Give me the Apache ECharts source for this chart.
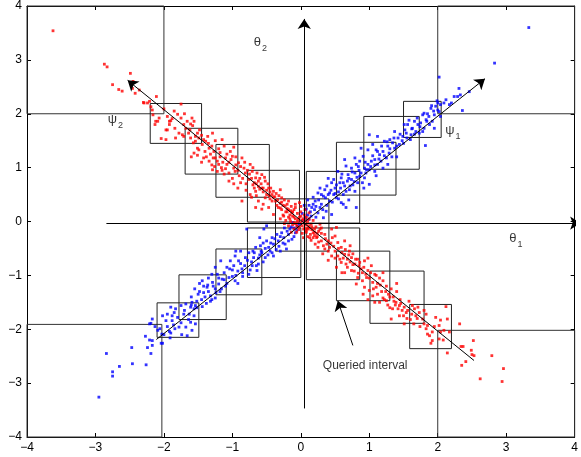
<!DOCTYPE html>
<html>
<head>
<meta charset="utf-8">
<script src="https://cdn.jsdelivr.net/npm/echarts@6/dist/echarts.min.js"></script>
<style>
  html, body { margin: 0; padding: 0; background: #fff; }
  #chart { width: 581px; height: 457px; }
</style>
</head>
<body>
<div id="chart"></div>
<script>
// Axis range and tick values
const axisMin = -4;
const axisMax = 4;
const tickStep = 1;

// Samples drawn around the psi2 direction (red)
const redPoints = [
  [-3.62,3.54],[-2.87,2.92],[-2.83,2.87],[-2.49,2.75],[-2.75,2.54],[-2.66,2.45],[-2.61,2.42],[-2.45,2.60],[-2.36,2.44],[-2.42,2.38],
  [-2.11,2.32],[-2.30,2.21],[-2.24,2.20],[-2.21,2.23],[-2.19,2.13],[-2.17,2.07],[-2.00,2.09],[-1.75,2.18],[-2.16,1.98],[-2.07,1.92],
  [-2.12,1.86],[-2.13,1.80],[-2.04,1.54],[-1.97,1.70],[-1.92,1.86],[-1.88,1.91],[-1.80,1.99],[-1.84,1.73],[-1.75,1.92],[-1.71,1.80],
  [-1.66,1.86],[-1.59,1.92],[-1.78,1.64],[-1.71,1.58],[-1.64,1.64],[-1.61,1.55],[-1.54,1.58],[-1.57,1.46],[-1.51,1.36],[-1.51,1.23],
  [-1.83,1.55],[-1.95,1.70],[-2.46,2.47],[-2.29,2.20],[-2.09,1.86],[-1.92,1.80],[-1.90,1.87],[-1.56,1.86],[-1.61,1.81],[-1.73,1.61],
  [-1.68,1.73],[-1.97,1.52],[-1.51,1.64],[-1.49,1.55],[-1.54,1.49],[-1.44,1.43],[-1.39,1.49],[-1.29,1.64],[-1.34,1.36],[-1.27,1.30],
  [-1.49,1.33],[-1.56,1.27],[-1.42,1.18],[-1.34,1.12],[-1.25,1.18],[-1.20,1.06],[-1.15,1.52],[-1.12,1.40],[-1.03,1.30],[-1.00,1.21],
  [-1.10,1.18],[-1.08,1.06],[-0.98,0.99],[-1.29,0.96],[-1.22,0.93],[-1.15,0.95],[-1.05,0.90],[-0.96,0.93],[-0.91,1.09],[-0.86,1.18],
  [-0.83,0.99],[-0.81,0.90],[-0.74,1.06],[-0.71,0.93],[-0.66,0.81],[-0.76,0.78],[-0.62,0.75],[-0.57,0.87],[-0.52,0.75],[-0.57,0.62],
  [-0.66,0.56],[-0.74,0.50],[-0.47,0.62],[-0.42,0.50],[-0.52,0.44],[-0.62,0.38],[-0.86,0.38],[-0.37,0.38],[-0.30,0.59],[-0.28,0.44],
  [-0.23,0.29],[-0.33,0.26],[-0.47,0.26],[-0.57,0.23],[-0.66,0.26],[-0.40,0.13],[-0.25,0.10],[-0.13,0.16],[-0.18,0.38],[-0.08,0.32],
  [-1.40,1.30],[-1.32,1.25],[-1.18,1.28],[-1.22,1.12],[-1.05,1.10],[-0.95,1.05],[-0.90,0.85],[-0.88,0.72],[-0.80,0.70],[-0.70,0.68],
  [-0.68,0.62],[-0.60,0.60],[-0.55,0.55],[-0.50,0.50],[-0.45,0.42],[-0.40,0.45],[-0.35,0.30],[-0.30,0.34],[-0.28,0.22],[-0.20,0.24],
  [-1.12,0.88],[-1.00,0.80],[-0.72,0.45],[-0.55,0.32],[-0.92,0.62],[-1.30,1.05],[-1.60,1.20],[-1.45,1.10],[-1.10,0.98],[-0.65,0.70],
  [-0.45,0.55],
  [-1.95,1.95],[-1.85,2.05],[-1.70,2.00],[-1.62,1.70],[-1.58,1.78],[-1.48,1.70],[-1.45,1.60],[-1.42,1.52],[-1.36,1.58],[-1.30,1.40],
  [-1.25,1.50],[-1.20,1.35],[-1.18,1.20],[-1.14,1.10],[-1.08,1.25],[-1.02,1.15],[-0.98,1.38],[-0.95,1.20],[-0.92,0.95],[-0.88,1.02],
  [-0.85,0.80],[-0.82,1.10],[-0.78,0.95],[-0.75,0.88],[-0.72,0.80],[-0.70,1.00],[-0.68,0.72],[-0.64,0.90],[-0.62,0.65],[-0.60,0.80],
  [-0.58,0.70],[-0.55,0.62],[-0.53,0.82],[-0.50,0.58],[-0.48,0.70],[-0.46,0.48],[-0.44,0.62],[-0.42,0.38],[-0.40,0.56],[-0.38,0.46],
  [-0.36,0.52],[-0.34,0.40],[-0.32,0.48],[-0.30,0.25],[-0.28,0.36],[-0.26,0.30],[-0.24,0.40],[-0.22,0.18],[-0.20,0.32],[-0.18,0.22],
  [-0.16,0.12],[-0.14,0.28],[-0.12,0.18],[-1.38,1.20],[-1.28,1.18],[-1.16,1.00],[-1.26,1.02],[-1.35,1.45],[-1.05,0.75],[-0.98,0.70],
  [-0.80,0.58],[-0.65,0.48],
  [-0.20,0.18],[-0.15,0.20],[-0.10,0.22],[-0.05,0.15],[0.00,0.18],[0.05,0.12],[-0.18,0.08],[-0.12,0.10],[-0.08,0.05],[-0.02,0.08],
  [0.03,0.05],[0.08,0.08],[-0.22,0.02],[-0.15,0.00],[-0.10,-0.02],[-0.05,0.00],[0.00,-0.02],[0.05,-0.03],[0.10,0.00],[0.12,0.05],
  [-0.18,-0.08],[-0.12,-0.06],[-0.06,-0.08],[0.02,-0.08],[0.08,-0.06],[0.15,-0.05],[0.18,0.02],[-0.10,-0.14],[-0.03,-0.15],[0.04,-0.14],
  [0.10,-0.12],[0.16,-0.15],[0.22,-0.10],[-0.06,-0.20],[0.02,-0.22],[0.08,-0.20],[0.14,-0.24],[0.20,-0.20],[0.26,-0.18],[0.00,0.28],
  [-0.08,0.26],[0.06,0.22],[-0.26,0.12],[0.12,0.16],[-0.30,0.05],[0.28,-0.05],[-0.02,0.35],[0.04,-0.30],[0.10,-0.28],[-0.14,-0.20],
  [0.18,-0.30],[0.24,-0.28],[-0.24,-0.04],[0.30,-0.12],
  [-0.04,0.04],[0.02,0.02],[-0.08,-0.04],[0.06,0.02],[-0.02,-0.10],[0.12,-0.08],[0.06,-0.12],[-0.16,0.05],[0.16,-0.10],[-0.10,0.08],
  [0.00,0.10],[0.20,-0.14],[0.24,-0.22],[0.08,-0.16],
  [0.11,-0.14],[0.18,-0.21],[0.13,-0.30],[0.23,-0.30],[0.28,-0.14],[0.35,-0.24],[0.30,-0.36],[0.21,-0.42],[0.40,-0.36],[0.45,-0.14],
  [0.52,-0.11],[0.50,-0.27],[0.54,-0.39],[0.42,-0.48],[0.35,-0.51],[0.25,-0.48],[0.59,-0.48],[0.64,-0.36],[0.50,-0.55],[0.45,-0.64],
  [0.54,-0.64],[0.64,-0.61],[0.71,-0.55],[0.74,-0.67],[0.59,-0.76],[0.66,-0.79],[0.79,-0.79],[0.83,-0.70],[0.93,-0.73],[0.88,-0.88],
  [0.74,-0.91],[0.64,-0.95],[0.52,-0.85],[0.98,-0.91],[1.03,-0.82],[1.08,-0.98],[0.96,-1.04],[0.83,-1.04],[1.05,-1.13],[0.93,-1.22],
  [1.00,-1.28],[1.10,-1.22],[0.91,-1.35],[0.81,-1.16],[1.05,-1.38],
  [0.38,-0.42],[0.46,-0.30],[0.60,-0.58],[0.68,-0.70],[0.76,-0.80],[0.85,-0.82],[0.90,-0.95],[0.72,-0.45],[0.32,-0.60],[0.40,-0.72],
  [1.15,-1.05],[1.12,-1.15],[1.20,-1.10],[1.18,-1.30],[1.25,-1.20],[1.28,-1.35],[1.32,-1.25],[1.22,-1.45],[1.35,-1.40],[1.40,-1.30],
  [1.38,-1.55],[1.15,-1.50],[1.45,-1.45],[1.48,-1.65],[1.30,-1.60],[1.58,-1.48],[1.55,-1.80],[1.62,-1.72],[1.70,-1.80],[1.20,-0.95],
  [0.98,-1.45],
  [0.15,-0.35],[0.20,-0.26],[0.26,-0.38],[0.30,-0.22],[0.33,-0.45],[0.36,-0.32],[0.40,-0.55],[0.44,-0.40],[0.48,-0.46],[0.50,-0.68],
  [0.55,-0.50],[0.57,-0.70],[0.62,-0.68],[0.65,-0.52],[0.68,-0.85],[0.70,-0.62],[0.72,-0.75],[0.76,-0.60],[0.78,-0.92],[0.80,-0.70],
  [0.84,-0.96],[0.86,-0.76],[0.90,-1.10],[0.92,-0.85],[0.95,-0.98],[1.00,-1.05],[1.02,-0.95],[1.06,-1.25],[1.10,-1.00],[1.12,-1.35],
  [1.16,-1.18],[1.20,-1.42],[1.24,-1.30],[1.27,-1.55],[1.30,-1.40],[1.34,-1.62],[1.36,-1.48],[1.42,-1.62],[1.46,-1.52],[1.50,-1.75],
  [1.56,-1.65],[1.60,-1.82],[1.65,-1.90],[1.74,-1.95],[1.88,-2.12],[1.95,-1.95],[1.40,-1.15],[0.60,-0.95],[0.98,-0.68],[1.08,-1.50],
  [1.25,-1.47],[1.39,-1.50],[1.44,-1.56],[1.51,-1.59],[1.32,-1.81],[1.44,-1.75],[1.54,-1.69],[1.51,-1.90],[1.63,-1.56],[1.66,-1.62],
  [1.71,-1.59],[1.73,-1.69],[1.68,-1.75],[1.80,-1.65],[1.83,-1.72],[1.78,-1.81],[1.85,-1.93],[1.80,-1.90],[1.83,-1.99],[1.85,-2.09],
  [1.92,-2.05],[1.97,-1.78],[2.02,-1.93],[2.12,-1.58],[2.14,-1.81],[2.04,-1.83],[2.09,-2.02],[2.17,-2.05],[2.04,-2.05],[1.92,-2.21],
  [1.90,-2.26],[2.02,-2.18],[2.08,-2.20],[2.14,-2.44],[2.32,-1.90],[2.34,-2.32],[2.37,-2.32],[2.52,-2.21],[2.49,-2.39],[2.50,-2.47],
  [2.53,-2.49],[2.41,-2.60],[2.35,-2.67],[2.79,-2.49],[2.96,-2.73],[2.62,-2.92],[2.94,-2.97]
];

// Samples drawn around the psi1 direction (blue)
const bluePoints = [
  [3.33,3.60],[2.83,2.94],[2.02,2.68],[2.31,2.47],[2.46,2.41],[2.29,2.32],[2.36,2.06],[2.12,2.26],[2.09,2.20],[2.20,2.20],
  [1.99,2.24],[2.04,2.17],[1.91,2.15],[1.80,2.01],[2.00,2.07],[1.82,1.41],[1.95,1.73],[1.78,1.67],[1.84,1.86],
  [2.33,2.35],[2.24,2.32],[2.17,2.17],[2.00,2.20],[1.97,2.14],[1.90,2.10],[2.02,2.04],[2.04,1.95],[1.95,1.98],[1.87,1.95],
  [1.92,1.86],[1.83,1.89],[1.75,1.83],[1.71,1.80],[1.66,1.86],[1.80,1.73],[1.63,1.73],[1.56,1.80],[1.51,1.80],[1.54,1.64],
  [1.61,1.61],[1.68,1.67],[1.73,1.64],[1.49,1.58],[1.42,1.55],[1.37,1.67],[1.34,1.46],[1.44,1.43],[1.37,1.36],[1.27,1.40],
  [1.22,1.49],[1.12,1.58],[1.29,1.27],[1.20,1.30],[1.25,1.18],[1.15,1.24],[1.10,1.33],[1.05,1.43],[0.98,1.33],[0.88,1.36],
  [1.08,1.15],[1.17,1.12],[1.27,1.06],[1.20,0.99],[1.12,1.06],[1.03,1.12],[0.98,1.06],[1.00,0.96],[1.08,0.93],[0.93,0.99],
  [0.86,1.12],[0.79,1.18],[0.91,1.21],[0.81,1.06],[0.74,0.99],[0.66,1.03],[0.64,1.15],[0.69,0.87],[0.79,0.90],[0.86,0.84],
  [0.93,0.81],[1.00,0.69],[0.83,0.72],[0.74,0.78],[0.59,0.81],[0.54,0.93],[0.57,0.72],[0.64,0.66],[0.71,0.59],[0.79,0.56],
  [0.50,0.62],[0.45,0.72],[0.42,0.53],[0.35,0.59],[0.33,0.47],[0.25,0.53],[0.52,0.44],[0.59,0.35],[0.66,0.26],[0.42,0.38],
  [0.30,0.32],[0.21,0.38],[0.16,0.26],[0.25,0.16],[0.37,0.19],[0.45,0.13],[0.33,0.07],[0.81,0.26],[0.08,0.23],[0.06,0.07],
  [1.00,1.61],
  [0.10,0.12],[0.15,0.10],[0.20,0.22],[0.12,0.30],[0.28,0.26],[0.38,0.30],[0.48,0.50],[0.55,0.55],[0.62,0.50],[0.68,0.75],
  [0.76,0.68],[0.85,0.95],[0.95,0.90],[0.18,0.45],[0.40,0.80],[0.70,0.40],[1.40,1.20],[1.50,1.45],[1.60,1.52],[1.30,1.52],
  [0.02,0.15],[0.04,0.02],[0.12,0.04],[0.22,0.08],
  [0.05,0.30],[0.10,0.40],[0.14,0.18],[0.18,0.32],[0.22,0.28],[0.26,0.40],[0.28,0.62],[0.30,0.50],[0.32,0.22],[0.36,0.44],
  [0.38,0.66],[0.40,0.50],[0.44,0.58],[0.46,0.36],[0.48,0.78],[0.50,0.52],[0.52,0.68],[0.55,0.42],[0.58,0.62],[0.60,0.88],
  [0.62,0.72],[0.66,0.56],[0.70,0.80],[0.72,0.66],[0.75,0.92],[0.78,0.74],[0.82,0.82],[0.84,1.02],[0.88,0.90],[0.90,0.72],
  [0.94,1.10],[0.96,0.96],[1.02,1.02],[1.05,1.22],[1.08,1.05],[1.12,1.30],[1.14,1.16],[1.18,1.40],[1.22,1.22],[1.26,1.48],
  [1.30,1.35],[1.33,1.20],[1.36,1.55],[1.40,1.40],[1.45,1.62],[1.48,1.50],[1.52,1.70],[1.55,1.55],[1.58,1.88],[1.62,1.72],
  [1.66,1.62],[1.70,1.92],[1.74,1.76],[1.78,1.98],[1.85,2.00],[1.88,1.80],[1.94,2.05],[0.62,0.32],[0.92,0.62],[1.10,0.85],
  [-2.95,-3.26],[-2.84,-2.45],[-2.75,-2.79],[-2.75,-2.87],[-2.65,-2.69],[-2.46,-2.64],[-2.47,-2.34],[-2.26,-2.66],[-2.27,-2.13],[-2.24,-2.34],
  [-2.19,-2.45],[-2.17,-2.30],[-2.21,-2.20],[-2.17,-2.21],[-2.04,-2.26],[-2.02,-2.26],[-2.03,-2.09],[-2.06,-1.99],[-2.21,-1.90],[-2.19,-1.89],
  [-2.17,-1.81],[-2.13,-1.95],[-2.09,-2.02],[-2.02,-1.75],[-1.95,-1.72],[-1.88,-1.75],[-1.97,-1.84],[-1.88,-1.84],[-1.92,-2.04],[-1.90,-2.07],
  [-1.84,-1.99],[-1.91,-2.16],[-1.74,-2.10],[-1.66,-2.12],[-1.78,-1.96],[-1.68,-1.96],[-1.59,-2.02],[-1.54,-1.90],[-1.61,-1.87],[-1.71,-1.72],
  [-1.63,-1.72],[-1.56,-1.75],[-1.61,-1.59],[-1.54,-1.56],[-1.75,-1.56],[-1.85,-1.69],[-1.90,-1.59],[-1.83,-1.62],[-1.68,-1.53],[-1.59,-1.50],
  [-1.45,-1.45],[-1.50,-1.35],[-1.38,-1.52],[-1.55,-1.25],[-1.30,-1.45],[-1.60,-1.40],[-1.52,-1.60],[-1.42,-1.20],[-1.35,-1.30],[-1.25,-1.42],
  [-1.48,-1.15],
  [-1.44,-1.10],[-1.37,-1.22],[-1.42,-1.32],[-1.29,-1.13],[-1.25,-1.25],[-1.32,-1.38],[-1.20,-1.16],[-1.22,-0.98],[-1.12,-0.95],[-1.15,-1.07],
  [-1.05,-1.04],[-1.08,-0.85],[-1.17,-0.73],[-1.03,-0.73],[-0.98,-0.82],[-0.96,-0.64],[-0.91,-0.73],[-0.86,-0.88],[-0.81,-0.67],[-0.88,-0.55],
  [-0.76,-0.58],[-0.69,-0.67],[-0.62,-0.79],[-0.71,-0.82],[-0.64,-0.91],[-0.76,-0.98],[-0.66,-0.48],[-0.59,-0.45],[-0.57,-0.58],[-0.52,-0.67],
  [-0.47,-0.48],[-0.50,-0.36],[-0.42,-0.30],[-0.40,-0.42],[-0.33,-0.36],[-0.35,-0.24],[-0.28,-0.21],[-0.25,-0.30],[-0.23,-0.42],[-0.18,-0.24],
  [-0.16,-0.14],[-0.13,-0.33],[-0.08,-0.21],[-0.21,-0.51],[-0.30,-0.55],[-0.40,-0.64],[-0.79,-0.14],[-0.54,-0.14],[-0.50,-0.08],
  [-0.05,-0.08],[-0.10,-0.12],[-0.02,-0.04],[-0.12,-0.02],[-0.45,-0.55],[-0.60,-0.62],[-0.85,-0.95],[-0.95,-1.00],[-1.00,-0.90],[-0.70,-0.55],
  [-0.55,-0.40],[-1.10,-1.20],[-1.18,-1.30],[-0.92,-1.15],[-1.25,-0.85],[-1.35,-1.05],
  [-0.06,-0.16],[-0.10,-0.28],[-0.14,-0.10],[-0.18,-0.36],[-0.20,-0.18],[-0.24,-0.12],[-0.26,-0.40],[-0.30,-0.28],[-0.32,-0.46],[-0.36,-0.52],
  [-0.38,-0.32],[-0.42,-0.58],[-0.44,-0.40],[-0.48,-0.62],[-0.52,-0.50],[-0.55,-0.75],[-0.58,-0.55],[-0.62,-0.68],[-0.65,-0.82],[-0.68,-0.58],
  [-0.72,-0.75],[-0.74,-0.90],[-0.78,-0.72],[-0.82,-0.82],[-0.85,-1.02],[-0.88,-0.78],[-0.92,-0.92],[-0.96,-1.10],[-1.00,-1.02],[-1.04,-0.88],
  [-1.08,-1.15],[-1.12,-1.08],[-1.16,-1.25],[-1.20,-1.05],[-1.24,-1.32],[-1.28,-1.20],[-1.32,-1.48],[-1.36,-1.18],[-1.40,-1.40],[-1.44,-1.58],
  [-1.48,-1.30],[-1.52,-1.48],[-1.56,-1.62],[-1.60,-1.55],[-1.64,-1.82],[-1.70,-1.65],[-1.75,-1.88],[-1.80,-1.78],[-1.86,-1.92],[-1.95,-1.95],
  [-2.00,-2.10],[-0.60,-0.30],[-0.95,-0.55],[-1.30,-0.98]
];

// Query rectangles along both directions: [xMin, yMin, xMax, yMax]
const queryBoxes = [
  [-2.20,1.45,-1.45,2.19],[-1.69,0.88,-0.92,1.73],[-1.24,0.45,-0.46,1.43],[-0.78,-0.01,-0.02,0.95],
  [-0.37,-0.55,0.41,0.42],
  [0.08,-1.08,0.86,-0.12],[0.52,-1.47,1.30,-0.55],[1.01,-1.89,1.80,-0.92],[1.59,-2.36,2.20,-1.54],
  [0.08,-0.03,0.86,0.93],[0.52,0.49,1.39,1.47],[0.92,0.97,1.73,1.95],[1.50,1.56,2.05,2.23],
  [-0.78,-1.04,0.00,-0.12],[-1.24,-1.36,-0.57,-0.51],[-1.78,-1.82,-1.09,-0.99],[-2.10,-2.15,-1.49,-1.51]
];

// Corner regions
const cornerBoxes = [
  [-4,2,-2,4],[2,2,4,4],[-4,-4,-2.03,-1.91],[2,-4,4,-2.02]
];

// Arrows: [from, to]
const thetaAxes = [
  [[-2.84,-0.03],[4.08,-0.03]],
  [[0.05,-3.47],[0.05,3.76]]
];
const psiAxes = [
  [[-2.11,-2.19],[2.69,2.65]],
  [[2.53,-2.58],[-2.53,2.62]]
];
const queryPointer = [[0.76,-2.30],[0.54,-1.47]];

// Text annotations
const annotations = [
  { name: '{g|θ}{s|2}', value: [-0.59, 3.27] },
  { name: '{g|θ}{s|1}', value: [3.14, -0.36] },
  { name: '{g|ψ}{s|1}', value: [2.22, 1.64] },
  { name: '{g|ψ}{s|2}', value: [-2.71, 1.84] },
  { name: '{t|Queried interval}', value: [0.94, -2.67] }
];

const FONT = '"Liberation Sans", Arial, Helvetica, sans-serif';
const fmt = v => (v < 0 ? '\u2212' + Math.abs(v) : String(v));

function axisCommon(showLabel, pos) {
  return {
    type: 'value', min: axisMin, max: axisMax, interval: tickStep, position: pos,
    axisLine: { show: true, onZero: false, lineStyle: { color: '#000', width: 1 } },
    axisTick: { show: true, inside: true, length: 4, lineStyle: { color: '#000' } },
    axisLabel: { show: showLabel, color: '#000', fontSize: 12, fontFamily: FONT, margin: 5, formatter: fmt },
    splitLine: { show: false }
  };
}

function boxSeries(data, color) {
  return {
    type: 'custom', coordinateSystem: 'cartesian2d', silent: true, z: 3,
    data: data,
    encode: { x: [0, 2], y: [1, 3] },
    renderItem: function (params, api) {
      const a = api.coord([api.value(0), api.value(1)]);
      const b = api.coord([api.value(2), api.value(3)]);
      return {
        type: 'rect',
        shape: { x: Math.min(a[0], b[0]), y: Math.min(a[1], b[1]),
                 width: Math.abs(b[0] - a[0]), height: Math.abs(b[1] - a[1]) },
        style: { fill: 'transparent', stroke: color, lineWidth: 1 }
      };
    }
  };
}

function arrowSeries(list) {
  return {
    type: 'lines', coordinateSystem: 'cartesian2d', silent: true, z: 5,
    symbol: ['none', 'arrow'],
    symbolSize: 10,
    lineStyle: { color: '#000', width: 1, opacity: 1, curveness: 0 },
    data: list.map(c => ({ coords: c }))
  };
}

const chart = echarts.init(document.getElementById('chart'), null, { renderer: 'canvas' });
chart.setOption({
  animation: false,
  backgroundColor: '#fff',
  grid: { left: 27, right: 3, top: 4, bottom: 20, containLabel: false },
  xAxis: [axisCommon(true, 'bottom'), axisCommon(false, 'top')],
  yAxis: [axisCommon(true, 'left'), axisCommon(false, 'right')],
  series: [
    boxSeries(cornerBoxes, '#333'),
    boxSeries(queryBoxes, '#222'),
    {
      type: 'scatter', symbol: 'rect', symbolSize: 2.8, z: 4, silent: true,
      itemStyle: { color: '#0000ff' }, data: bluePoints
    },
    {
      type: 'scatter', symbol: 'rect', symbolSize: 2.8, z: 4, silent: true,
      itemStyle: { color: '#ff0000' }, data: redPoints
    },
    arrowSeries(thetaAxes),
    arrowSeries(psiAxes),
    arrowSeries([queryPointer]),
    {
      type: 'scatter', symbolSize: 0, z: 6, silent: true,
      data: annotations,
      label: {
        show: true, position: 'inside', color: '#000',
        formatter: p => p.name,
        rich: {
          g: { fontFamily: FONT, fontSize: 13, color: '#000', lineHeight: 18, verticalAlign: 'top' },
          s: { fontFamily: FONT, fontSize: 9, color: '#000', lineHeight: 18, padding: [7, 0, 0, 1] },
          t: { fontFamily: FONT, fontSize: 12, color: '#000' }
        }
      }
    }
  ]
});
</script>
</body>
</html>
